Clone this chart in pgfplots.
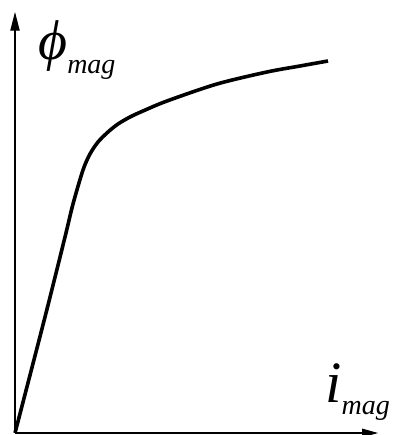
\documentclass[border=0pt]{standalone}
\usepackage{fontspec}
\setmainfont{Liberation Serif}
\usepackage{pgfplots}
\pgfplotsset{compat=1.18}
\usetikzlibrary{arrows.meta}

\begin{document}
\begin{tikzpicture}[x=0.75pt,y=0.75pt]
% page = 395 x 435 px, 1 px = 0.75pt
\useasboundingbox (0,0) rectangle (395,435);
\begin{axis}[
    at={(15,2)}, anchor=south west,
    scale only axis,
    width=272.25pt, height=315.75pt,
    xmin=0, xmax=363, ymin=0, ymax=421,
    axis lines=left,
    axis line style={line width=0.8pt},
    x axis line style={-{Stealth[length=12pt,width=6.5pt,inset=0pt]}},
    y axis line style={-{Stealth[length=14pt,width=7pt,inset=0pt]}},
    xtick=\empty, ytick=\empty,
    clip=false,
]
% magnetising curve (pixel units from the origin)
\addplot[black, line width=2.7pt, smooth, tension=0.5] coordinates {
    (0,0)(30,116)(50,196)(58,229)(68,263)(75,279)(83,291)(93,301)
    (103,309)(115,316)(128,322)(152,332)(202,349)(252,361)
    (285,367)(313,372)
};
\node[anchor=base west, inner sep=0pt] at (axis cs:23,373)
    {\fontsize{42}{42}\selectfont\itshape ϕ\raisebox{-10pt}{\fontsize{21}{21}\selectfont mag}};
\node[anchor=base west, inner sep=0pt] at (axis cs:310,30)
    {\fontsize{44}{44}\selectfont\itshape i\raisebox{-9pt}{\fontsize{21}{21}\selectfont mag}};
\end{axis}
\end{tikzpicture}
\end{document}
